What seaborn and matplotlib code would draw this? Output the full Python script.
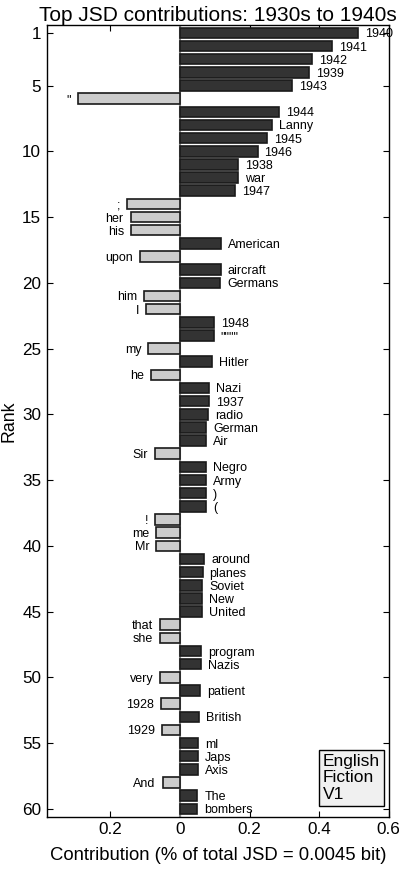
"""
Top JSD contributions, 1930s vs 1940s (English Fiction V1).
Horizontal bar chart of the 60 largest word contributions.
"""

import pandas as pd
import numpy as np
import matplotlib
matplotlib.use('Agg')
import matplotlib.pyplot as plt
import seaborn as sns

sns.set_style('ticks')
plt.rcParams['font.family'] = ['Liberation Sans', 'DejaVu Sans']
plt.rcParams['text.color'] = 'black'
plt.rcParams['axes.labelcolor'] = 'black'
plt.rcParams['xtick.color'] = 'black'
plt.rcParams['ytick.color'] = 'black'

# Data
words = ['1940', '1941', '1942', '1939', '1943', '"', '1944', 'Lanny', '1945', '1946',
         '1938', 'war', '1947', ';', 'her', 'his', 'American', 'upon', 'aircraft', 'Germans',
         'him', 'I', '1948', '""""', 'my', 'Hitler', 'he', 'Nazi', '1937', 'radio',
         'German', 'Air', 'Sir', 'Negro', 'Army', ')', '(', '!', 'me', 'Mr',
         'around', 'planes', 'Soviet', 'New', 'United', 'that', 'she', 'program', 'Nazis', 'very',
         'patient', '1928', 'British', '1929', 'ml', 'Japs', 'Axis', 'And', 'The', 'bombers']
contrib = [0.513, 0.438, 0.379, 0.372, 0.323, -0.293, 0.286, 0.264, 0.250, 0.223,
           0.168, 0.167, 0.158, -0.152, -0.142, -0.141, 0.119, -0.115, 0.117, 0.115,
           -0.102, -0.098, 0.098, 0.097, -0.091, 0.091, -0.084, 0.083, 0.083, 0.080,
           0.076, 0.076, -0.073, 0.075, 0.075, 0.075, 0.075, -0.071, -0.068, -0.068,
           0.070, 0.065, 0.064, 0.064, 0.064, -0.058, -0.058, 0.060, 0.060, -0.056,
           0.058, -0.054, 0.055, -0.052, 0.053, 0.053, 0.052, -0.050, 0.050, 0.050]
ranks = list(range(1, len(words) + 1))
ytick_vals = [1, 5, 10, 15, 20, 25, 30, 35, 40, 45, 50, 55, 60]
xtick_vals = [-0.2, 0, 0.2, 0.4, 0.6]

df = pd.DataFrame({'rank': ranks, 'word': words, 'contrib': contrib})
df['side'] = np.where(df['contrib'] > 0, 'up', 'down')

fig = plt.figure(figsize=(3.99, 8.75), dpi=100)
ax = fig.add_axes([0.117, 0.0666, 0.858, 0.9048])

ax.axvline(0, color='#888888', linewidth=1.5, zorder=1)
sns.barplot(data=df, x='contrib', y='rank', hue='side', orient='h', native_scale=True,
            palette={'up': '#333333', 'down': '#cccccc'}, dodge=False, legend=False,
            edgecolor='#1a1a1a', linewidth=1.2, width=0.8, ax=ax, zorder=2)

# word labels next to each bar
for _, row in df.iterrows():
    if row['contrib'] > 0:
        ax.annotate(row['word'], (row['contrib'], row['rank']), xytext=(5, 0),
                    textcoords='offset points', ha='left', va='center_baseline', fontsize=9,
                    annotation_clip=False)
    else:
        ax.annotate(row['word'], (row['contrib'], row['rank']), xytext=(-5, 0),
                    textcoords='offset points', ha='right', va='center_baseline', fontsize=9,
                    annotation_clip=False)

ax.set_xlim(-0.383, 0.601)
ax.set_ylim(60.6, 0.4)
ax.set_yticks(ytick_vals)
ax.set_yticklabels([str(v) for v in ytick_vals])
ax.set_xticks(xtick_vals)
ax.set_xticklabels(['0.2', '0', '0.2', '0.4', '0.6'])
ax.tick_params(direction='in', top=True, right=True, length=4, width=0.8,
               labelsize=12.3, pad=4)
for sp in ax.spines.values():
    sp.set_linewidth(1.0)
    sp.set_color('black')

ax.set_title('Top JSD contributions: 1930s to 1940s', fontsize=15, pad=3)
ax.set_xlabel('Contribution (% of total JSD = 0.0045 bit)', fontsize=13.3, labelpad=7)
ax.set_ylabel('Rank', fontsize=12.8, labelpad=3)

ax.text(0.41, 57.65, 'English\nFiction\nV1', fontsize=12.5, ha='left', va='center',
        linespacing=1.12,
        bbox=dict(boxstyle='square,pad=0.22', facecolor='#f0f0f0', edgecolor='black', linewidth=1.0))

plt.savefig('out.png', dpi=100)
plt.close()
